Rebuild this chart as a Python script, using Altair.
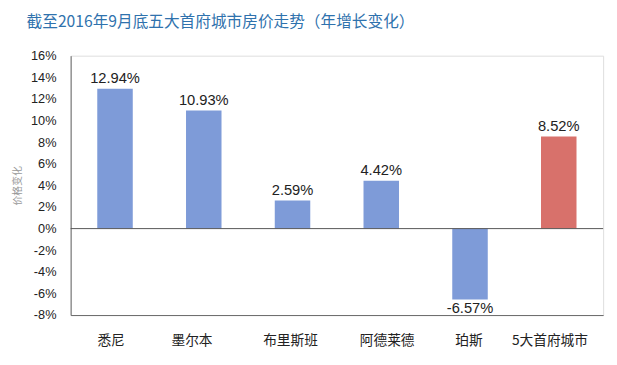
import altair as alt
import pandas as pd

cities = ["悉尼", "墨尔本", "布里斯班", "阿德莱德", "珀斯", "5大首府城市"]
values = [12.94, 10.93, 2.59, 4.42, -6.57, 8.52]
labels = ["12.94%", "10.93%", "2.59%", "4.42%", "-6.57%", "8.52%"]
groups = ["city", "city", "city", "city", "city", "total"]
y_ticks = [-8, -6, -4, -2, 0, 2, 4, 6, 8, 10, 12, 14, 16]
label_shift = [-4, -12, -2, 6, -1, -9]

df = pd.DataFrame({"city": cities, "value": values, "label": labels, "group": groups})

FONT = "Liberation Sans, 'Noto Sans CJK SC', sans-serif"

shift_expr = " : ".join(
    f"datum.value == '{c}' ? {s}" for c, s in zip(cities, label_shift)
) + " : 0"

x = alt.X("city:N", sort=cities, title=None,
          scale=alt.Scale(paddingInner=0.6, paddingOuter=0.3),
          axis=alt.Axis(labelAngle=0, ticks=False, labelPadding=19, labelFontSize=14,
                        labelColor="#222", labelFont="'Noto Sans CJK SC'",
                        labelOffset=alt.ExprRef(shift_expr),
                        domainColor="#666", domainWidth=1))
y = alt.Y("value:Q", title="价格变化",
          scale=alt.Scale(domain=[-8, 16], nice=False),
          axis=alt.Axis(values=y_ticks, labelExpr="datum.value + '%'",
                        grid=False, ticks=False, labelPadding=15, labelFontSize=13,
                        labelOverlap=False, tickCount=13,
                        labelColor="#222", labelFont=FONT,
                        domainColor="#666", domainWidth=1,
                        titleFontSize=10, titleFontWeight="normal", titleColor="#999",
                        titleFont="'Noto Sans CJK SC'", titlePadding=8))

base = alt.Chart(df)

bars = base.mark_bar().encode(
    x=x, y=y,
    color=alt.Color("group:N", legend=None,
                    scale=alt.Scale(domain=["city", "total"], range=["#7e9bd8", "#d8716b"])),
)

pos_text = base.transform_filter("datum.value >= 0").mark_text(
    baseline="bottom", dy=-3, fontSize=15, font=FONT, color="#222"
).encode(x=x, y=y, text="label:N")

neg_text = base.transform_filter("datum.value < 0").mark_text(
    baseline="top", dy=2, fontSize=15, font=FONT, color="#222"
).encode(x=x, y=y, text="label:N")

zero = alt.Chart(pd.DataFrame({"value": [0]})).mark_rule(color="#555", strokeWidth=1).encode(y=y)

chart = alt.layer(bars, zero, pos_text, neg_text).properties(
    width=544, height=265,
    padding={"left": 4, "top": 3, "right": 5, "bottom": 0},
    title=alt.TitleParams("截至2016年9月底五大首府城市房价走势（年增长变化）",
                          anchor="start", frame="bounds", fontSize=16, fontWeight="normal",
                          color="#2f72ad", font="'Noto Sans CJK SC'", offset=20, dx=14),
).configure_view(fill="#f5f5f7", strokeWidth=0).configure(background="white")

chart.save("out.html", embed_options={"renderer": "svg", "actions": False})
